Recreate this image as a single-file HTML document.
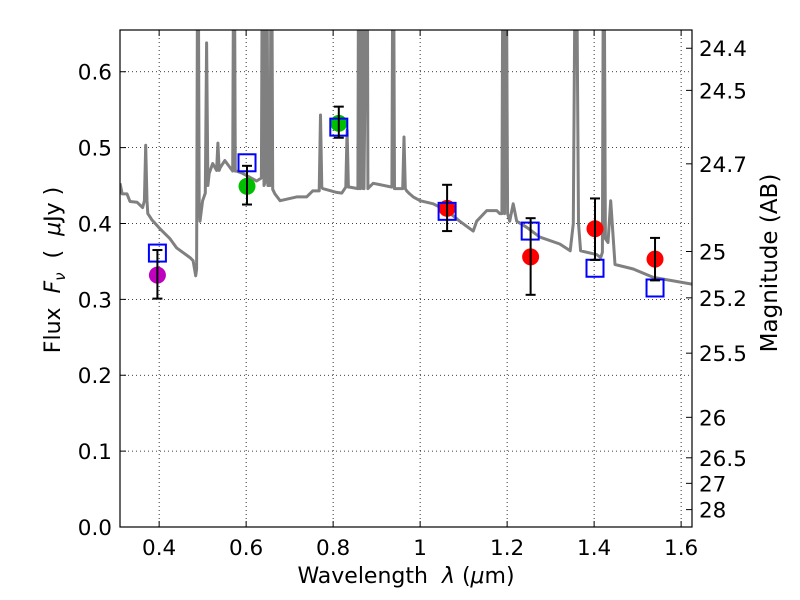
<!DOCTYPE html>
<html><head><meta charset="utf-8"><style>
body{margin:0;background:#fff;}
svg{display:block;font-family:"DejaVu Sans","Liberation Sans",sans-serif;}
text{white-space:pre;}
</style></head><body>
<svg id="c" width="800" height="600" xmlns="http://www.w3.org/2000/svg">
<rect width="800" height="600" fill="#fff"/>
<defs><clipPath id="clip"><rect x="120" y="30" width="572" height="497"/></clipPath></defs>
<g id="grid"></g>
<g id="spec" clip-path="url(#clip)"></g>
<g id="marks"></g>
<rect x="120" y="30" width="572" height="497" fill="none" stroke="#000" stroke-width="1.2"/>
<g id="axes"></g>
<text x="406" y="583" font-size="22" text-anchor="middle">Wavelength  <tspan font-style="italic">λ</tspan> (<tspan font-style="italic">μ</tspan>m)</text>
<text transform="translate(60,270) rotate(-90)" font-size="22" text-anchor="middle">Flux  <tspan font-style="italic">F</tspan><tspan font-style="italic" font-size="15" dy="5">ν</tspan><tspan dy="-5">  (  </tspan><tspan font-style="italic">μ</tspan>Jy )</text>
<text transform="translate(777,263) rotate(-90)" font-size="23" text-anchor="middle">Magnitude (AB)</text>
</svg>
<script>
const specLam=[0.310,0.315,0.326,0.333,0.349,0.362,0.366,0.369,0.372,0.374,0.383,0.402,0.425,0.440,0.471,0.478,0.484,0.486,0.489,0.492,0.494,0.500,0.506,0.509,0.512,0.515,0.523,0.532,0.535,0.538,0.540,0.551,0.569,0.572,0.575,0.578,0.592,0.624,0.635,0.638,0.641,0.644,0.647,0.650,0.655,0.658,0.661,0.666,0.678,0.716,0.739,0.753,0.768,0.771,0.774,0.776,0.808,0.820,0.829,0.832,0.835,0.838,0.857,0.859,0.861,0.863,0.867,0.869,0.871,0.878,0.880,0.883,0.892,0.935,0.938,0.941,0.946,0.960,0.963,0.966,0.969,0.976,0.984,1.000,1.030,1.061,1.091,1.122,1.130,1.153,1.176,1.183,1.188,1.191,1.194,1.197,1.201,1.206,1.214,1.222,1.245,1.275,1.321,1.345,1.352,1.358,1.364,1.369,1.406,1.415,1.419,1.422,1.426,1.432,1.438,1.448,1.490,1.536,1.625];
const specFlux=[0.453,0.439,0.439,0.429,0.428,0.421,0.430,0.503,0.430,0.413,0.405,0.393,0.380,0.368,0.355,0.351,0.331,0.340,0.900,0.420,0.403,0.430,0.440,0.638,0.450,0.466,0.479,0.470,0.506,0.470,0.473,0.483,0.469,0.900,0.469,0.469,0.466,0.456,0.460,0.900,0.450,0.455,0.900,0.450,0.450,0.900,0.445,0.439,0.430,0.435,0.435,0.443,0.443,0.543,0.448,0.446,0.441,0.440,0.448,0.523,0.448,0.448,0.446,0.900,0.446,0.446,0.900,0.446,0.446,0.900,0.446,0.448,0.453,0.448,0.900,0.446,0.446,0.446,0.514,0.446,0.443,0.439,0.435,0.430,0.426,0.417,0.403,0.390,0.403,0.417,0.417,0.413,0.413,0.900,0.413,0.900,0.413,0.403,0.426,0.403,0.395,0.382,0.373,0.364,0.400,0.900,0.400,0.364,0.359,0.355,0.362,0.900,0.380,0.375,0.430,0.346,0.340,0.329,0.320];
const ptLam=[0.396,0.602,0.813,1.062,1.254,1.402,1.540];
const ptFlux=[0.332,0.449,0.532,0.420,0.356,0.393,0.353];
const errLo=[0.301,0.425,0.513,0.390,0.306,0.352,0.325];
const errHi=[0.365,0.476,0.554,0.451,0.407,0.433,0.381];
const ptColor=['#bf00bf','#00bf00','#00bf00','#ff0000','#ff0000','#ff0000','#ff0000'];
const modelLam=[0.396,0.602,0.813,1.062,1.253,1.402,1.540];
const modelFlux=[0.361,0.480,0.527,0.416,0.390,0.341,0.315];
const xTicks=[0.4,0.6,0.8,1.0,1.2,1.4,1.6];
const xTickLabels=['0.4','0.6','0.8','1','1.2','1.4','1.6'];
const yTicks=[0,0.1,0.2,0.3,0.4,0.5,0.6];
const yTickLabels=['0.0','0.1','0.2','0.3','0.4','0.5','0.6'];
const magTicks=[24.4,24.5,24.7,25,25.2,25.5,26,26.5,27,28];
const magTickLabels=['24.4','24.5','24.7','25','25.2','25.5','26','26.5','27','28'];

const NS='http://www.w3.org/2000/svg';
const X0=120,X1=692,Y0=527,Y1=30,LMIN=0.31,LMAX=1.625,FMIN=0,FMAX=0.655;
function sx(l){return X0+(l-LMIN)/(LMAX-LMIN)*(X1-X0);}
function sy(f){return Y0-(f-FMIN)/(FMAX-FMIN)*(Y0-Y1);}
function mk(tag,attrs,parent){const e=document.createElementNS(NS,tag);for(const k in attrs)e.setAttribute(k,attrs[k]);parent.appendChild(e);return e;}
const grid=document.getElementById('grid'),axes=document.getElementById('axes'),spec=document.getElementById('spec'),marks=document.getElementById('marks');
xTicks.forEach((t,i)=>{const x=sx(t);
 const g=mk('line',{x1:x,x2:x,y1:Y1,y2:Y0,stroke:'#000','stroke-width':0.8,'stroke-dasharray':'1,3'},grid);
 
 
 mk('line',{x1:x,x2:x,y1:Y0,y2:Y0-6,stroke:'#000'},axes);
 mk('line',{x1:x,x2:x,y1:Y1,y2:Y1+6,stroke:'#000'},axes);
 const tx=mk('text',{x:x,y:555,'font-size':21.5,'text-anchor':'middle'},axes);tx.textContent=xTickLabels[i];
 
 
});
yTicks.forEach((t,i)=>{const y=sy(t);
 const g=mk('line',{x1:X0,x2:X1,y1:y,y2:y,stroke:'#000','stroke-width':0.8,'stroke-dasharray':'1,3'},grid);
 
 
 mk('line',{x1:X0,x2:X0+6,y1:y,y2:y,stroke:'#000'},axes);
 const tx=mk('text',{x:112,y:y+8,'font-size':21.5,'text-anchor':'end'},axes);tx.textContent=yTickLabels[i];
 
 
});
magTicks.forEach((m,i)=>{const f=Math.pow(10,(23.9-m)/2.5);const y=sy(f);
 mk('line',{x1:X1,x2:X1-6,y1:y,y2:y,stroke:'#000'},axes);
 const tx=mk('text',{x:699,y:y+8,'font-size':21.5},axes);tx.textContent=magTickLabels[i];
 
 
});
let d='';specLam.forEach((l,i)=>{d+=(i?'L':'M')+sx(l).toFixed(1)+','+sy(specFlux[i]).toFixed(1);});
const p=mk('path',{d:d,fill:'none',stroke:'#808080','stroke-width':3,'stroke-linejoin':'round'},spec);


ptLam.forEach((l,i)=>{const x=sx(l);
 const c=mk('circle',{cx:x,cy:sy(ptFlux[i]),r:8.5,fill:ptColor[i]},marks);
 
 
});
modelLam.forEach((l,i)=>{const x=sx(l),y=sy(modelFlux[i]);
 const s=mk('rect',{x:x-8.5,y:y-8.5,width:17,height:17,fill:'none',stroke:'#0000ff','stroke-width':2},marks);
 
 
});
ptLam.forEach((l,i)=>{const x=sx(l),a=sy(errLo[i]),b=sy(errHi[i]);
 const g=mk('g',{stroke:'#000','stroke-width':2},marks);
 
 
 mk('line',{x1:x,x2:x,y1:a,y2:b},g);mk('line',{x1:x-5,x2:x+5,y1:a,y2:a},g);mk('line',{x1:x-5,x2:x+5,y1:b,y2:b},g);
});
</script>
</body></html>
